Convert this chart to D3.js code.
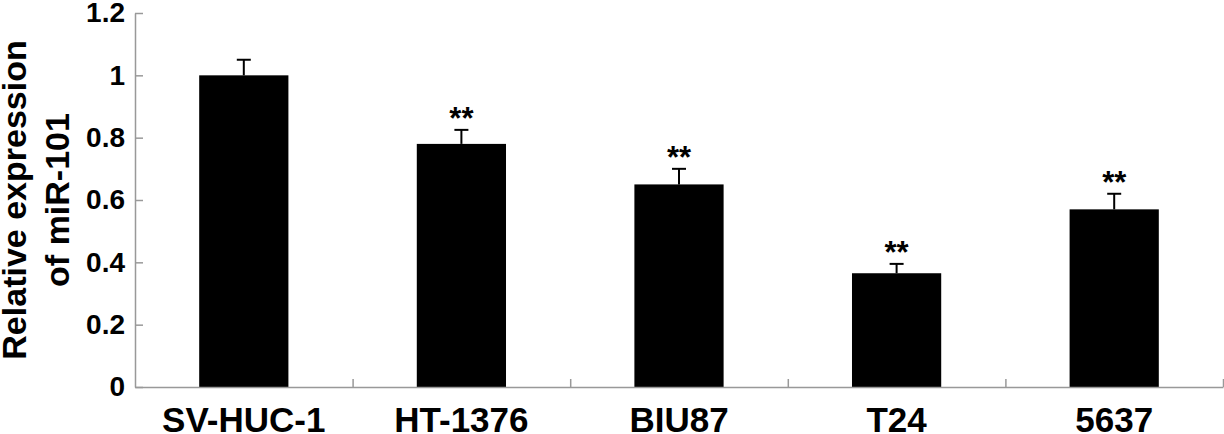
<html>
<head>
<script src="https://d3js.org/d3.v7.min.js"></script>
<style>
body { margin: 0; background: #fff; }
svg { display: block; font-family: "Liberation Sans", Arial, sans-serif; font-weight: bold; }
.axis path, .axis line { stroke: #999; stroke-width: 1.5; }
</style>
</head>
<body>
<svg width="1224" height="434"></svg>
<script>
// values
var cellLines = ["SV-HUC-1", "HT-1376", "BIU87", "T24", "5637"];
var expression = [1.0, 0.78, 0.65, 0.365, 0.57];
var errors = [0.05, 0.045, 0.05, 0.03, 0.05];
var marks = ["", "**", "**", "**", "**"];
var yTicks = [0, 0.2, 0.4, 0.6, 0.8, 1, 1.2];

var svg = d3.select("svg");
// note: "top" is taken by window.top, so use plot* names
var plotLeft = 135, plotRight = 1223, plotTop = 13, plotBottom = 387;

var x = d3.scaleBand().domain(cellLines).range([plotLeft, plotRight]).padding(0);
var xEdge = d3.scaleLinear().domain([0, cellLines.length]).range([plotLeft, plotRight]);
var y = d3.scaleLinear().domain([0, 1.2]).range([plotBottom, plotTop]);
var barW = x.bandwidth() * 0.41;

var data = cellLines.map(function (c, i) {
	return { name: c, value: expression[i], err: errors[i], mark: marks[i] };
});

function cx(d) { return x(d.name) + x.bandwidth() / 2; }

// bars
svg.selectAll("rect.bar").data(data).enter().append("rect")
	.attr("class", "bar")
	.attr("x", function (d) { return cx(d) - barW / 2; })
	.attr("y", function (d) { return y(d.value); })
	.attr("width", barW)
	.attr("height", function (d) { return y(0) - y(d.value); })
	.attr("fill", "#000");

// error bars (upper only)
var eb = svg.selectAll("g.err").data(data).enter().append("g").attr("class", "err")
	.attr("stroke", "#000").attr("stroke-width", 2);
eb.append("line")
	.attr("x1", cx).attr("x2", cx)
	.attr("y1", function (d) { return y(d.value); })
	.attr("y2", function (d) { return y(d.value + d.err); });
eb.append("line")
	.attr("x1", function (d) { return cx(d) - 7; })
	.attr("x2", function (d) { return cx(d) + 7; })
	.attr("y1", function (d) { return y(d.value + d.err); })
	.attr("y2", function (d) { return y(d.value + d.err); });

// significance stars
svg.selectAll("text.mark").data(data).enter().append("text")
	.attr("class", "mark")
	.attr("x", cx)
	.attr("y", function (d) { return y(d.value + d.err) - 1; })
	.attr("text-anchor", "middle")
	.style("font-size", "31px")
	.text(function (d) { return d.mark; });

// y axis, ticks pointing inward
var yAxis = svg.append("g").attr("class", "axis")
	.attr("transform", "translate(" + plotLeft + ",0)")
	.call(d3.axisLeft(y).tickValues(yTicks).tickFormat(function (d) { return String(d); })
		.tickSizeInner(-8).tickSizeOuter(0).tickPadding(10));
yAxis.selectAll("text").style("font-size", "28px").attr("fill", "#000");

// x axis line with category labels
var xAxis = svg.append("g").attr("class", "axis")
	.attr("transform", "translate(0," + plotBottom + ")")
	.call(d3.axisBottom(x).tickSize(0).tickPadding(20));
xAxis.selectAll("text").style("font-size", "35px").attr("fill", "#000");

// boundary ticks between categories
svg.append("g").attr("class", "axis")
	.attr("transform", "translate(0," + plotBottom + ")")
	.call(d3.axisBottom(xEdge).tickValues(d3.range(1, cellLines.length + 1))
		.tickSizeInner(-8).tickSizeOuter(0).tickFormat(""))
	.select(".domain").remove();

// y title
var title = svg.append("g").attr("transform", "translate(0," + (plotTop + plotBottom) / 2 + ") rotate(-90)");
title.append("text").attr("x", 0).attr("y", 26).attr("text-anchor", "middle")
	.style("font-size", "34px").text("Relative expression");
title.append("text").attr("x", 0).attr("y", 69).attr("text-anchor", "middle")
	.style("font-size", "34px").text("of miR-101");
</script>
</body>
</html>
